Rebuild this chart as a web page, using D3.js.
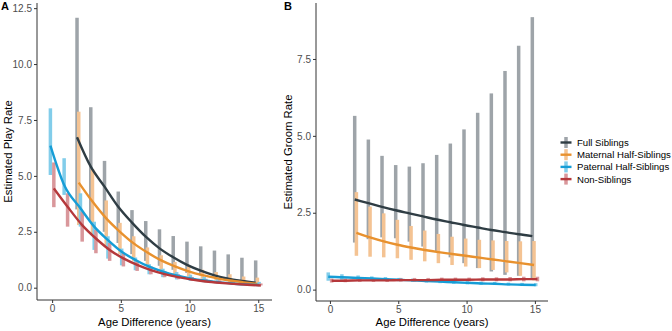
<!DOCTYPE html>
<html lang="en">
<head>
  <meta charset="UTF-8">
  <title>Estimated Play and Groom Rate by Age Difference</title>
  <script src="https://d3js.org/d3.v7.min.js"></script>
  <style>
    body {
      margin: 0;
      background: #fff;
      font-family: "Liberation Sans", Arial, sans-serif;
    }
    svg { display: block; }
    .tick text { font-size: 10px; fill: #4d4d4d; }
    .tick line { stroke: #333; }
    .domain { stroke: #333; }
    .axis-label { font-size: 11.3px; fill: #000; }
    .panel-tag { font-size: 11px; font-weight: bold; }
    .legend text { font-size: 9.6px; fill: #000; }
  </style>
</head>
<body>
<svg width="672" height="331"></svg>

<script>
// groups and colours
const groups = ["Full Siblings", "Maternal Half-Siblings", "Paternal Half-Siblings", "Non-Siblings"];
const lineColors = ["#2f3d44", "#e8912e", "#169dd6", "#b5383b"];
const barColors  = ["#9ea4a9", "#f4c393", "#82cdea", "#d9979b"];

// age differences
const agesAll  = [0, 1, 2, 3, 4, 5, 6, 7, 8, 9, 10, 11, 12, 13, 14, 15];
const agesFull = [2, 3, 4, 5, 6, 7, 8, 9, 10, 11, 12, 13, 14, 15];

// panel A: play rate
const playFullMean = [6.73, 5.41, 4.52, 3.62, 2.91, 2.28, 1.76, 1.36, 1.02, 0.76, 0.55, 0.40, 0.30, 0.22];
const playFullLo   = [3.50, 3.00, 2.50, 2.00, 1.50, 1.20, 0.98, 0.80, 0.66, 0.55, 0.46, 0.38, 0.32, 0.27];
const playFullHi   = [12.07, 8.07, 5.67, 4.30, 3.47, 2.98, 2.61, 2.31, 2.06, 1.85, 1.66, 1.49, 1.34, 1.22];

const playMatMean = [4.70, 3.85, 3.10, 2.50, 1.98, 1.57, 1.22, 0.95, 0.73, 0.56, 0.43, 0.32, 0.24, 0.17];
const playMatLo   = [2.80, 2.40, 1.90, 1.50, 1.20, 0.95, 0.75, 0.60, 0.50, 0.40, 0.32, 0.26, 0.20, 0.16];
const playMatHi   = [7.87, 5.30, 3.90, 2.90, 2.30, 1.80, 1.45, 1.15, 0.95, 0.80, 0.70, 0.60, 0.50, 0.45];

const playPatMean = [6.35, 4.59, 3.55, 2.73, 2.13, 1.61, 1.24, 0.94, 0.72, 0.55, 0.42, 0.32, 0.25, 0.19, 0.15, 0.12];
const playPatLo   = [5.04, 4.15, 2.73, 1.69, 1.30, 1.00, 0.78, 0.60, 0.47, 0.37, 0.30, 0.24, 0.20, 0.16, 0.13, 0.11];
const playPatHi   = [8.02, 5.79, 4.22, 2.95, 2.30, 1.75, 1.35, 1.05, 0.85, 0.70, 0.58, 0.48, 0.40, 0.34, 0.30, 0.26];

const playNonMean = [4.44, 3.62, 2.80, 2.20, 1.69, 1.31, 1.02, 0.79, 0.61, 0.47, 0.36, 0.28, 0.22, 0.17, 0.13, 0.10];
const playNonLo   = [3.60, 2.73, 2.06, 1.54, 1.20, 0.95, 0.75, 0.60, 0.47, 0.38, 0.30, 0.24, 0.19, 0.15, 0.12, 0.10];
const playNonHi   = [5.60, 4.22, 3.40, 2.58, 2.00, 1.55, 1.20, 0.95, 0.75, 0.60, 0.48, 0.40, 0.33, 0.27, 0.22, 0.19];

// panel B: groom rate
const groomFullMean = [2.93, 2.81, 2.69, 2.58, 2.48, 2.38, 2.28, 2.19, 2.10, 2.02, 1.94, 1.87, 1.80, 1.74];
const groomFullLo   = [1.53, 1.64, 1.70, 1.67, 1.56, 1.40, 1.24, 1.05, 0.86, 0.70, 0.59, 0.48, 0.45, 0.32];
const groomFullHi   = [5.65, 4.88, 4.35, 4.05, 4.00, 4.11, 4.38, 4.75, 5.21, 5.75, 6.38, 7.11, 7.93, 8.86];

const groomMatMean = [1.85, 1.70, 1.57, 1.46, 1.37, 1.29, 1.22, 1.16, 1.10, 1.04, 0.98, 0.92, 0.86, 0.80];
const groomMatLo   = [1.10, 1.07, 1.05, 1.02, 0.97, 0.92, 0.86, 0.80, 0.75, 0.70, 0.64, 0.56, 0.45, 0.30];
const groomMatHi   = [3.17, 2.70, 2.48, 2.27, 2.07, 1.92, 1.81, 1.72, 1.66, 1.62, 1.60, 1.58, 1.57, 1.58];

const groomPatMean = [0.42, 0.40, 0.38, 0.36, 0.34, 0.32, 0.30, 0.28, 0.26, 0.24, 0.22, 0.20, 0.19, 0.17, 0.16, 0.15];
const groomPatLo   = [0.29, 0.32, 0.32, 0.31, 0.29, 0.27, 0.25, 0.23, 0.21, 0.19, 0.17, 0.16, 0.15, 0.13, 0.12, 0.11];
const groomPatHi   = [0.56, 0.50, 0.46, 0.43, 0.41, 0.38, 0.36, 0.34, 0.32, 0.30, 0.28, 0.26, 0.25, 0.23, 0.22, 0.21];

const groomNonMean = [0.29, 0.29, 0.30, 0.30, 0.30, 0.31, 0.31, 0.31, 0.32, 0.32, 0.32, 0.33, 0.33, 0.33, 0.34, 0.34];
const groomNonLo   = [0.23, 0.24, 0.25, 0.25, 0.25, 0.26, 0.26, 0.26, 0.27, 0.27, 0.27, 0.27, 0.27, 0.27, 0.27, 0.27];
const groomNonHi   = [0.36, 0.36, 0.37, 0.37, 0.37, 0.38, 0.38, 0.38, 0.39, 0.39, 0.39, 0.40, 0.40, 0.41, 0.42, 0.42];

const xTicks = [0, 5, 10, 15];
const playTicks = [0, 2.5, 5, 7.5, 10, 12.5];
const groomTicks = [0, 2.5, 5, 7.5];

function makeSeries(ages, mean, lo, hi) {
  return ages.map((a, i) => ({ age: a, mean: mean[i], lo: lo[i], hi: hi[i] }));
}

const playData = [
  makeSeries(agesFull, playFullMean, playFullLo, playFullHi),
  makeSeries(agesFull, playMatMean, playMatLo, playMatHi),
  makeSeries(agesAll, playPatMean, playPatLo, playPatHi),
  makeSeries(agesAll, playNonMean, playNonLo, playNonHi)
];
const groomData = [
  makeSeries(agesFull, groomFullMean, groomFullLo, groomFullHi),
  makeSeries(agesFull, groomMatMean, groomMatLo, groomMatHi),
  makeSeries(agesAll, groomPatMean, groomPatLo, groomPatHi),
  makeSeries(agesAll, groomNonMean, groomNonLo, groomNonHi)
];

const svg = d3.select("svg");
const dodgeWidth = 0.5;

// dodge like ggplot: spread the groups present at each age
function dodged(data) {
  const present = {};
  data.forEach((s, gi) => s.forEach(d => { (present[d.age] = present[d.age] || []).push(gi); }));
  return data.map((s, gi) => s.map(d => {
    const list = present[d.age], n = list.length, k = list.indexOf(gi);
    return Object.assign({}, d, { xd: d.age + dodgeWidth * ((k + 0.5) / n - 0.5) });
  }));
}

function drawPanel(cfg) {
  const x = d3.scaleLinear().domain(cfg.xDomain).range(cfg.xRange);
  const y = d3.scaleLinear().domain(cfg.yDomain).range(cfg.yRange);
  const g = svg.append("g");

  g.append("g")
   .attr("transform", `translate(0,${cfg.yRange[0]})`)
   .call(d3.axisBottom(x).tickValues(xTicks).tickSize(3).tickPadding(2).tickFormat(d3.format("d")))
   .call(a => a.select(".domain").attr("d", `M${cfg.xRange[0]},0H${cfg.xRange[1]}`));

  g.append("g")
   .attr("transform", `translate(${cfg.xRange[0]},0)`)
   .call(d3.axisLeft(y).tickValues(cfg.yTicks).tickSize(3).tickPadding(2).tickFormat(d3.format(".1f")))
   .call(a => a.select(".domain").attr("d", `M0,${cfg.yRange[0]}V${cfg.yRange[1]}`));

  const data = dodged(cfg.data);

  data.forEach((s, gi) => {
    g.selectAll(null)
     .data(s)
     .enter().append("rect")
     .attr("x", d => x(d.xd) - 1.75)
     .attr("width", 3.5)
     .attr("y", d => y(d.hi))
     .attr("height", d => y(d.lo) - y(d.hi))
     .attr("fill", barColors[gi]);
  });

  const line = d3.line().x(d => x(d.xd)).y(d => y(d.mean)).curve(d3.curveMonotoneX);
  data.forEach((s, gi) => {
    g.append("path")
     .datum(s)
     .attr("fill", "none")
     .attr("stroke", lineColors[gi])
     .attr("stroke-width", 2.4)
     .attr("d", line);
  });

  svg.append("text")
     .attr("class", "axis-label")
     .attr("x", (cfg.xRange[0] + cfg.xRange[1]) / 2)
     .attr("y", 326)
     .attr("text-anchor", "middle")
     .text("Age Difference (years)");

  svg.append("text")
     .attr("class", "axis-label")
     .attr("transform", `translate(${cfg.yTitleX},${(cfg.yRange[0] + cfg.yRange[1]) / 2}) rotate(-90)`)
     .attr("text-anchor", "middle")
     .text(cfg.yTitle);

  svg.append("text")
     .attr("class", "panel-tag")
     .attr("x", cfg.tagX)
     .attr("y", 10)
     .text(cfg.tag);
}

drawPanel({
  data: playData, xDomain: [-1.1, 16], xRange: [37, 272],
  yDomain: [-0.55, 12.73], yRange: [300, 3], yTicks: playTicks,
  yTitle: "Estimated Play Rate", yTitleX: 12, tag: "A", tagX: 1
});

drawPanel({
  data: groomData, xDomain: [-1.02, 15.96], xRange: [316, 548],
  yDomain: [-0.37, 9.32], yRange: [301, 3], yTicks: groomTicks,
  yTitle: "Estimated Groom Rate", yTitleX: 292, tag: "B", tagX: 284
});

// legend
const legend = svg.append("g")
  .attr("class", "legend")
  .attr("transform", "translate(566,142.5)");

groups.forEach((name, i) => {
  const row = legend.append("g").attr("transform", `translate(0,${i * 12.2})`);
  row.append("rect").attr("x", -1.75).attr("y", -5.5).attr("width", 3.5).attr("height", 11).attr("fill", barColors[i]);
  row.append("line").attr("x1", -5.5).attr("x2", 5.5).attr("y1", 0).attr("y2", 0)
     .attr("stroke", lineColors[i]).attr("stroke-width", 2.4);
  row.append("text").attr("x", 11).attr("y", 3.4).text(name);
});
</script>
</body>
</html>
